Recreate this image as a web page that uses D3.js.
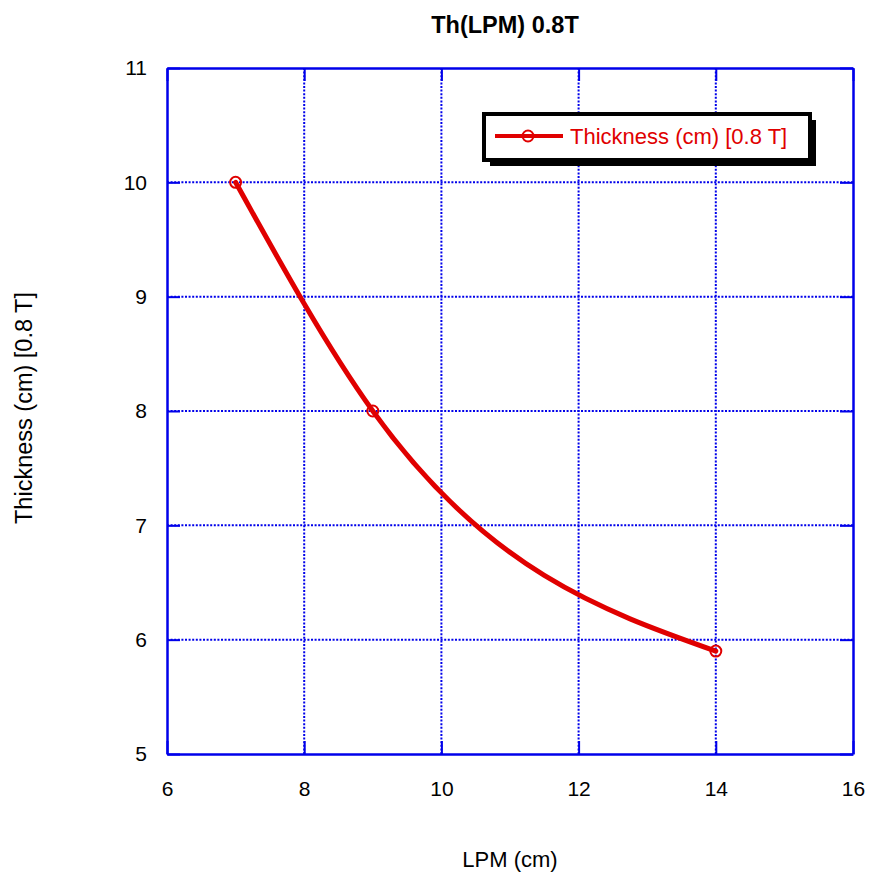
<!DOCTYPE html>
<html>
<head>
<meta charset="utf-8">
<script src="https://cdn.jsdelivr.net/npm/d3@7"></script>
<style>
  html, body { margin: 0; padding: 0; background: #fff; }
  svg { display: block; font-family: "Liberation Sans", Arial, sans-serif; }
</style>
</head>
<body>
<svg id="chart" width="870" height="872"></svg>
<script>
// Thickness vs. LPM at 0.8 T
const lpm = [7, 9, 14];
const thickness = [10, 8, 5.9];
const xTicks = [6, 8, 10, 12, 14, 16];
const yTicks = [5, 6, 7, 8, 9, 10, 11];
const chartTitle = "Th(LPM) 0.8T";
const xLabel = "LPM (cm)";
const yLabel = "Thickness (cm) [0.8 T]";
const seriesName = "Thickness (cm) [0.8 T]";

const blue = "#0000ea";
const red = "#e00000";

const svg = d3.select("#chart");
const margin = { left: 167, right: 17, top: 68, bottom: 118 };
const W = 870, H = 872;

const x = d3.scaleLinear().domain([6, 16]).range([margin.left, W - margin.right]);
const y = d3.scaleLinear().domain([5, 11]).range([H - margin.bottom, margin.top]);

const x0 = x.range()[0], x1 = x.range()[1];
const y0 = y.range()[0], y1 = y.range()[1];

// dotted grid
const grid = svg.append("g").attr("stroke", blue).attr("stroke-width", 2)
  .attr("stroke-dasharray", "2,1.6");
grid.selectAll("line.gx").data(xTicks.slice(1, -1)).join("line")
  .attr("x1", d => x(d)).attr("x2", d => x(d)).attr("y1", y1).attr("y2", y0);
grid.selectAll("line.gy").data(yTicks.slice(1, -1)).join("line")
  .attr("y1", d => y(d)).attr("y2", d => y(d)).attr("x1", x0).attr("x2", x1);

// axes with inward ticks on all four sides
const tickLen = 13;
const fmt = d3.format("d");
const axB = svg.append("g").attr("transform", `translate(0,${y0})`)
  .call(d3.axisBottom(x).tickValues(xTicks).tickFormat(fmt).tickSizeInner(-tickLen).tickSizeOuter(0).tickPadding(27));
const axT = svg.append("g").attr("transform", `translate(0,${y1})`)
  .call(d3.axisTop(x).tickValues(xTicks).tickSizeInner(-tickLen).tickSizeOuter(0).tickFormat(""));
const axL = svg.append("g").attr("transform", `translate(${x0},0)`)
  .call(d3.axisLeft(y).tickValues(yTicks).tickFormat(fmt).tickSizeInner(-tickLen).tickSizeOuter(0).tickPadding(20));
const axR = svg.append("g").attr("transform", `translate(${x1},0)`)
  .call(d3.axisRight(y).tickValues(yTicks).tickSizeInner(-tickLen).tickSizeOuter(0).tickFormat(""));

[axB, axT, axL, axR].forEach(g => {
  g.select(".domain").attr("stroke", blue).attr("stroke-width", 2.5);
  g.selectAll(".tick line").attr("stroke", blue).attr("stroke-width", 2);
  g.selectAll(".tick text").attr("fill", "#000").attr("font-size", 21)
    .attr("font-family", "Liberation Sans, Arial, sans-serif");
});

// data curve
const line = d3.line().x((d, i) => x(lpm[i])).y(d => y(d)).curve(d3.curveMonotoneX);
svg.append("path").datum(thickness).attr("d", line)
  .attr("fill", "none").attr("stroke", red).attr("stroke-width", 5)
  .attr("stroke-linejoin", "round").attr("stroke-linecap", "round");

// markers
svg.selectAll("circle.pt").data(thickness).join("circle")
  .attr("cx", (d, i) => x(lpm[i])).attr("cy", d => y(d)).attr("r", 5.5)
  .attr("fill", "none").attr("stroke", red).attr("stroke-width", 2);

// title and axis labels
svg.append("text").attr("x", 505).attr("y", 33).attr("text-anchor", "middle")
  .attr("font-size", 23.5).attr("font-weight", "bold").text(chartTitle);
svg.append("text").attr("x", (x0 + x1) / 2).attr("y", 867).attr("text-anchor", "middle")
  .attr("font-size", 22).text(xLabel);
svg.append("text").attr("transform", `translate(32,408) rotate(-90)`).attr("text-anchor", "middle")
  .attr("font-size", 23.5).text(yLabel);

// legend
const lg = svg.append("g").attr("transform", "translate(484,114)");
const lw = 326, lh = 46;
lg.append("rect").attr("x", 6).attr("y", 6).attr("width", lw).attr("height", lh).attr("fill", "#000");
lg.append("rect").attr("x", 0).attr("y", 0).attr("width", lw).attr("height", lh)
  .attr("fill", "#fff").attr("stroke", "#000").attr("stroke-width", 4);
lg.append("line").attr("x1", 11).attr("x2", 79).attr("y1", 22).attr("y2", 22)
  .attr("stroke", red).attr("stroke-width", 4);
lg.append("circle").attr("cx", 44).attr("cy", 22).attr("r", 5.5)
  .attr("fill", "none").attr("stroke", red).attr("stroke-width", 2);
lg.append("text").attr("x", 86).attr("y", 30).attr("font-size", 22).attr("fill", red).text(seriesName);
</script>
</body>
</html>
